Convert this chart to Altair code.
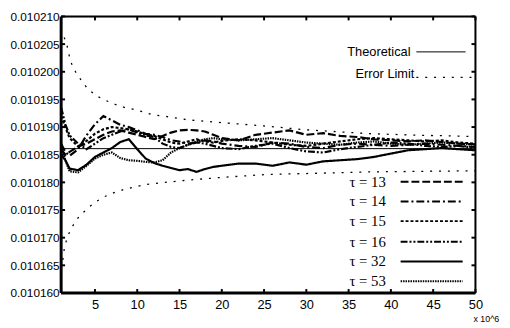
import altair as alt
import pandas as pd

# ---------------- data ----------------
x_vals = [1, 1.5, 2, 3, 4, 5, 6, 7, 8, 9, 10, 11, 12, 13, 14, 15, 16, 17, 18, 19, 20,
          22, 24, 26, 28, 30, 32, 34, 36, 38, 40, 42, 44, 46, 48, 50]

tau13 = [0.0101860, 0.0101850, 0.0101855, 0.0101865, 0.0101870, 0.0101878, 0.0101886, 0.0101892,
         0.0101894, 0.0101890, 0.0101886, 0.0101882, 0.0101878, 0.0101884, 0.0101890, 0.0101894,
         0.0101895, 0.0101894, 0.0101892, 0.0101886, 0.0101880, 0.0101876, 0.0101886, 0.0101890,
         0.0101894, 0.0101886, 0.0101889, 0.0101884, 0.0101882, 0.0101878, 0.0101876, 0.0101874,
         0.0101876, 0.0101873, 0.0101870, 0.0101869]
tau14 = [0.0101870, 0.0101855, 0.0101848, 0.0101860, 0.0101885, 0.0101905, 0.0101920, 0.0101912,
         0.0101904, 0.0101900, 0.0101894, 0.0101888, 0.0101886, 0.0101882, 0.0101876, 0.0101874,
         0.0101870, 0.0101872, 0.0101876, 0.0101874, 0.0101870, 0.0101866, 0.0101864, 0.0101872,
         0.0101870, 0.0101864, 0.0101862, 0.0101868, 0.0101870, 0.0101868, 0.0101866, 0.0101868,
         0.0101870, 0.0101868, 0.0101866, 0.0101864]
tau15 = [0.0101920, 0.0101900, 0.0101880, 0.0101865, 0.0101875, 0.0101888, 0.0101896, 0.0101900,
         0.0101898, 0.0101896, 0.0101892, 0.0101887, 0.0101884, 0.0101878, 0.0101872, 0.0101870,
         0.0101874, 0.0101878, 0.0101874, 0.0101872, 0.0101875, 0.0101878, 0.0101876, 0.0101872,
         0.0101868, 0.0101866, 0.0101870, 0.0101874, 0.0101878, 0.0101880, 0.0101878, 0.0101876,
         0.0101874, 0.0101876, 0.0101872, 0.0101870]
tau16 = [0.0101935, 0.0101905, 0.0101885, 0.0101870, 0.0101860, 0.0101870, 0.0101880, 0.0101886,
         0.0101892, 0.0101896, 0.0101890, 0.0101885, 0.0101882, 0.0101870, 0.0101864, 0.0101862,
         0.0101868, 0.0101872, 0.0101870, 0.0101866, 0.0101862, 0.0101860, 0.0101866, 0.0101870,
         0.0101862, 0.0101856, 0.0101854, 0.0101860, 0.0101864, 0.0101868, 0.0101872, 0.0101870,
         0.0101866, 0.0101864, 0.0101866, 0.0101862]
tau32 = [0.0101850, 0.0101840, 0.0101825, 0.0101822, 0.0101832, 0.0101846, 0.0101854, 0.0101862,
         0.0101873, 0.0101878, 0.0101860, 0.0101843, 0.0101835, 0.0101830, 0.0101826, 0.0101822,
         0.0101824, 0.0101819, 0.0101824, 0.0101828, 0.0101830, 0.0101834, 0.0101834, 0.0101830,
         0.0101836, 0.0101832, 0.0101838, 0.0101840, 0.0101842, 0.0101846, 0.0101852, 0.0101858,
         0.0101860, 0.0101862, 0.0101860, 0.0101858]
tau53 = [0.0101865, 0.0101840, 0.0101820, 0.0101818, 0.0101830, 0.0101843, 0.0101850, 0.0101854,
         0.0101844, 0.0101840, 0.0101839, 0.0101837, 0.0101836, 0.0101840, 0.0101854, 0.0101862,
         0.0101868, 0.0101874, 0.0101878, 0.0101880, 0.0101878, 0.0101876, 0.0101878, 0.0101880,
         0.0101876, 0.0101872, 0.0101870, 0.0101868, 0.0101872, 0.0101874, 0.0101870, 0.0101868,
         0.0101870, 0.0101872, 0.0101870, 0.0101868]

series_names = ["τ = 13", "τ = 14", "τ = 15", "τ = 16", "τ = 32", "τ = 53"]
series_values = [tau13, tau14, tau15, tau16, tau32, tau53]

theoretical = 0.0101861

upper_x = [1.35, 1.6, 2.1, 2.7, 3.4, 4.1, 5.1, 6.3, 7.4, 8.6, 9.9, 11.9, 13.5, 16, 20, 25, 30, 37.5, 44, 50]
upper_v = [0.0102062, 0.0102054, 0.0102019, 0.0102000, 0.0101984, 0.0101970, 0.0101957, 0.0101948,
           0.0101941, 0.0101935, 0.0101931, 0.0101922, 0.0101919, 0.0101913, 0.0101908, 0.0101902,
           0.0101895, 0.0101888, 0.0101885, 0.0101883]
lower_x = [1.2, 1.4, 1.8, 2.4, 3.1, 4.0, 4.9, 6.1, 7.2, 8.4, 9.8, 10.9, 13.3, 16, 20, 25, 30, 37.5, 44, 50]
lower_v = [0.0101660, 0.0101683, 0.0101704, 0.0101722, 0.0101738, 0.0101751, 0.0101763, 0.0101774,
           0.0101781, 0.0101787, 0.0101792, 0.0101796, 0.0101800, 0.0101804, 0.0101809, 0.0101814,
           0.0101816, 0.0101819, 0.0101820, 0.0101821]

x_ticks = [5, 10, 15, 20, 25, 30, 35, 40, 45, 50]
y_ticks = [0.010160, 0.010165, 0.010170, 0.010175, 0.010180, 0.010185,
           0.010190, 0.010195, 0.010200, 0.010205, 0.010210]

# ---------------- layout / styles ----------------
W, H = 421, 281
SANS = "Liberation Sans"
SERIF = "Liberation Serif"
dashes = [[8, 3], [8, 3, 2, 3], [3, 2], [7, 2, 2, 2, 2, 2], [1, 0], [1.5, 1]]

rows = []
for name, vals in zip(series_names, series_values):
    for xv, vv in zip(x_vals, vals):
        rows.append({"x": xv, "v": vv, "s": name})
df = pd.DataFrame(rows)

lim_rows = [{"x": a, "v": b, "w": "upper"} for a, b in zip(upper_x, upper_v)] + \
           [{"x": a, "v": b, "w": "lower"} for a, b in zip(lower_x, lower_v)]
df_lim = pd.DataFrame(lim_rows)

xs = alt.Scale(domain=[1, 50], nice=False, zero=False)
ys = alt.Scale(domain=[0.01016, 0.01021], nice=False, zero=False)
xaxis = alt.Axis(values=x_ticks, format="d", labelFont=SANS, labelFontSize=13, labelColor="black",
                 labelPadding=6, ticks=False, domain=False, grid=False, title=None,
                 labelFlush=False, labelOverlap=False)
yaxis = alt.Axis(values=y_ticks, format=".6f", labelFont=SANS, labelFontSize=12, labelColor="black",
                 labelPadding=2, ticks=False, domain=False, grid=False, title=None,
                 labelFlush=False, labelOverlap=False)
X = alt.X("x:Q", scale=xs, axis=xaxis)
Y = alt.Y("v:Q", scale=ys, axis=yaxis)

dash_scale = alt.Scale(domain=series_names, range=dashes)

lines = alt.Chart(df).mark_line(color="black", strokeWidth=2.2, clip=True).encode(
    x=X, y=Y, strokeDash=alt.StrokeDash("s:N", scale=dash_scale, legend=None))

limits = alt.Chart(df_lim).mark_line(color="black", strokeWidth=1.3, strokeDash=[2, 7], clip=True).encode(
    x=X, y=Y, detail="w:N")

theo = alt.Chart(alt.Data(values=[{"v": theoretical}])).mark_rule(color="black", strokeWidth=1).encode(y=Y)

df_xt = pd.DataFrame({"x": x_ticks})
df_yt = pd.DataFrame({"v": y_ticks})
tick_b = alt.Chart(df_xt).mark_rule(color="black", strokeWidth=2).encode(x=X, y=alt.value(H), y2=alt.value(H - 4))
tick_t = alt.Chart(df_xt).mark_rule(color="black", strokeWidth=2).encode(x=X, y=alt.value(0), y2=alt.value(4))
tick_l = alt.Chart(df_yt).mark_rule(color="black", strokeWidth=2).encode(y=Y, x=alt.value(0), x2=alt.value(4))
tick_r = alt.Chart(df_yt).mark_rule(color="black", strokeWidth=2).encode(y=Y, x=alt.value(W), x2=alt.value(W - 4))

one = alt.Data(values=[{"a": 1}])
frame = [
    alt.Chart(one).mark_rule(color="black", strokeWidth=3).encode(x=alt.value(0), y=alt.value(0), y2=alt.value(H)),
    alt.Chart(one).mark_rule(color="black", strokeWidth=3).encode(x=alt.value(0), x2=alt.value(W), y=alt.value(H)),
    alt.Chart(one).mark_rule(color="black", strokeWidth=2).encode(x=alt.value(0), x2=alt.value(W), y=alt.value(0)),
    alt.Chart(one).mark_rule(color="black", strokeWidth=2).encode(x=alt.value(W), y=alt.value(0), y2=alt.value(H)),
]

legend_layers = []
legend_layers.append(alt.Chart(one).mark_text(font=SANS, fontSize=13, align="right", baseline="middle", color="black")
                     .encode(x=alt.value(355), y=alt.value(36), text=alt.value("Theoretical")))
legend_layers.append(alt.Chart(one).mark_rule(color="black", strokeWidth=1)
                     .encode(x=alt.value(361), x2=alt.value(411), y=alt.value(36)))
legend_layers.append(alt.Chart(one).mark_text(font=SANS, fontSize=13, align="right", baseline="middle", color="black")
                     .encode(x=alt.value(359), y=alt.value(59), text=alt.value("Error Limit")))
legend_layers.append(alt.Chart(one).mark_rule(color="black", strokeWidth=1.3, strokeDash=[2, 7])
                     .encode(x=alt.value(361), x2=alt.value(417), y=alt.value(62)))

row_y = [168, 188, 208, 229, 249, 269]
for name, dash, ry in zip(series_names, dashes, row_y):
    legend_layers.append(alt.Chart(one).mark_text(font=SERIF, fontSize=15, align="left", baseline="middle", color="black")
                         .encode(x=alt.value(293), y=alt.value(ry), text=alt.value(name)))
    legend_layers.append(alt.Chart(one).mark_rule(color="black", strokeWidth=2, strokeDash=dash)
                         .encode(x=alt.value(345), x2=alt.value(408), y=alt.value(ry)))

legend_layers.append(alt.Chart(one).mark_text(font=SANS, fontSize=9, align="left", baseline="middle", color="black")
                     .encode(x=alt.value(419), y=alt.value(307), text=alt.value("x 10^6")))

chart = alt.layer(limits, theo, lines, tick_b, tick_t, tick_l, tick_r, *frame, *legend_layers).properties(
    width=W, height=H,
    autosize=alt.AutoSizeParams(type="none"),
    padding={"left": 54, "top": 6, "right": 27, "bottom": 33},
).configure_view(stroke=None).configure(background="white")

chart.save("out.html", embed_options={"renderer": "svg", "actions": False})
